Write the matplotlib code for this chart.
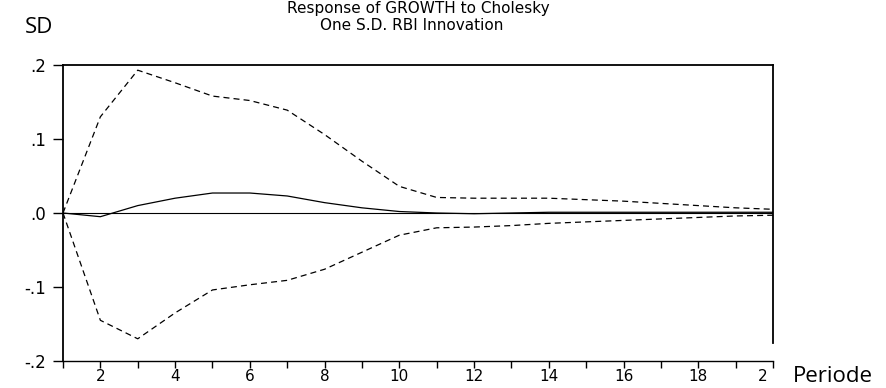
import numpy as np
import matplotlib
matplotlib.use("Agg")
import matplotlib.pyplot as plt
from matplotlib.transforms import ScaledTranslation

# impulse response
periods = np.arange(1, 21)
response = [0.0, -0.005, 0.010, 0.020, 0.027, 0.027, 0.023, 0.014, 0.007, 0.002,
            0.0, -0.001, 0.0, 0.001, 0.001, 0.001, 0.001, 0.001, 0.001, 0.001]
upper = [0.0, 0.130, 0.193, 0.176, 0.158, 0.152, 0.139, 0.106, 0.070, 0.036,
         0.021, 0.020, 0.020, 0.020, 0.018, 0.016, 0.013, 0.010, 0.007, 0.005]
lower = [0.0, -0.145, -0.170, -0.135, -0.104, -0.097, -0.091, -0.076, -0.053, -0.030,
         -0.020, -0.019, -0.017, -0.014, -0.012, -0.010, -0.008, -0.006, -0.004, -0.003]

ytick_vals = [-0.2, -0.1, 0.0, 0.1, 0.2]
ytick_labels = ['-.2', '-.1', '.0', '.1', '.2']
xtick_labels = ['' if p % 2 else str(p) for p in periods]
xtick_labels[-1] = '2'

title1 = 'Response of GROWTH to Cholesky'
title2 = 'One S.D. RBI Innovation'

W, H = 886, 388
fig = plt.figure(figsize=(W / 100, H / 100), dpi=100)
ax = fig.add_axes([63 / W, (H - 361) / H, (773 - 63) / W, (361 - 65) / H])

ax.plot(periods, upper, color='black', lw=0.9, dashes=(4.8, 3.3))
ax.plot(periods, lower, color='black', lw=0.9, dashes=(4.8, 3.3))
ax.plot(periods, response, color='black', lw=0.9)
ax.axhline(0, color='black', lw=0.8)

ax.set_xlim(1, 20)
ax.set_ylim(-0.2, 0.2)

ax.set_yticks(ytick_vals)
ax.set_yticklabels(ytick_labels)
ax.set_xticks(periods)
ax.set_xticklabels(xtick_labels)

for s in ax.spines.values():
    s.set_linewidth(1.3)
ax.spines['bottom'].set_linewidth(1.0)
ax.spines['right'].set_bounds(-0.175, 0.2)

ax.tick_params(axis='y', length=7, width=1, pad=5, labelsize=12)
ax.tick_params(axis='x', length=5, width=1, pad=1, labelsize=11)
# the last label sits a little left of its tick, as in the source
last = ax.get_xticklabels()[-1]
last.set_transform(last.get_transform() + ScaledTranslation(-0.10, 0, fig.dpi_scale_trans))

fig.text(418 / W, 1 - 13 / H, title1, ha='center', va='baseline', fontsize=11)
fig.text(412 / W, 1 - 29.5 / H, title2, ha='center', va='baseline', fontsize=11)

fig.text(25 / W, 1 - 33 / H, 'SD', ha='left', va='baseline',
         fontsize=16, family='Open Sans')
fig.text(793 / W, 1 - 382 / H, 'Periode', ha='left', va='baseline',
         fontsize=16, family='Open Sans')

fig.savefig('out.png', dpi=100)
